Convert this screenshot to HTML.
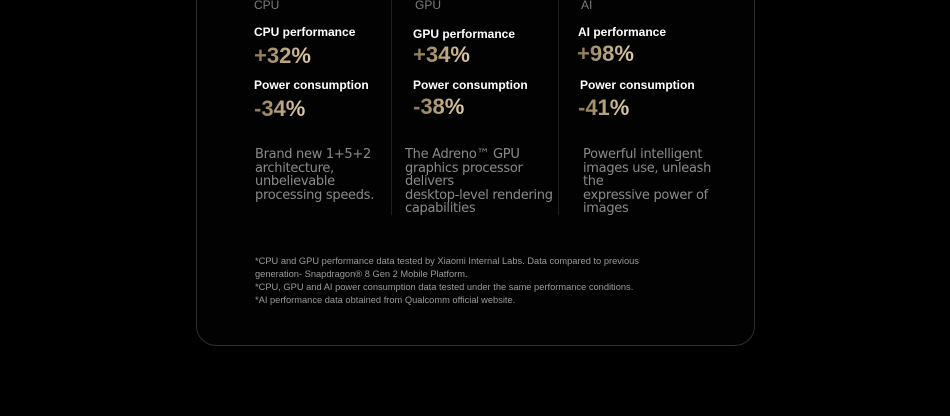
<!DOCTYPE html>
<html><head><meta charset="utf-8"><style>
body{margin:0;width:950px;height:416px;background:#000;overflow:hidden;position:relative;font-family:"Liberation Sans","DejaVu Sans",sans-serif}
.card{position:absolute;left:196px;top:-30px;width:557px;height:374px;border:1px solid #2e2e2e;border-radius:20px;background:#020202}
.t{position:absolute;white-space:nowrap}
.h{color:#7c7c7c;font-size:12px}
.lab{color:#fff;font-size:12px;font-weight:bold}
.num{font-size:22px;font-weight:bold;background:linear-gradient(90deg,#8a7650,#e0cda4);-webkit-background-clip:text;color:transparent}
.desc{color:#8a8a8a;font-size:13px;line-height:13.5px;font-family:"DejaVu Sans",sans-serif;letter-spacing:-0.3px}
.div{position:absolute;top:0;width:1px;height:215px;background:#1e1e1e}
.fn{position:absolute;left:255px;top:255px;color:#9a9a9a;font-size:9.3px;line-height:13px}
</style></head><body>
<div class="card"></div>
<div class="div" style="left:391px"></div>
<div class="div" style="left:558px"></div>
<div class="t h" style="left:254px;top:-2px">CPU</div>
<div class="t h" style="left:415px;top:-2px">GPU</div>
<div class="t h" style="left:581px;top:-2px">AI</div>
<div class="t lab" style="left:254px;top:25px">CPU performance</div>
<div class="t num" style="left:254px;top:43px">+32%</div>
<div class="t lab" style="left:254px;top:78px">Power consumption</div>
<div class="t num" style="left:254px;top:96px">-34%</div>
<div class="t lab" style="left:413px;top:27px">GPU performance</div>
<div class="t num" style="left:413px;top:42px">+34%</div>
<div class="t lab" style="left:413px;top:78px">Power consumption</div>
<div class="t num" style="left:413px;top:94px">-38%</div>
<div class="t lab" style="left:578px;top:25px">AI performance</div>
<div class="t num" style="left:577px;top:41px">+98%</div>
<div class="t lab" style="left:580px;top:78px">Power consumption</div>
<div class="t num" style="left:578px;top:95px">-41%</div>
<div class="t desc" style="left:255px;top:148px">Brand new 1+5+2<br>architecture,<br>unbelievable<br>processing speeds.</div>
<div class="t desc" style="left:405px;top:148px">The Adreno™ GPU<br>graphics processor<br>delivers<br>desktop-level rendering<br>capabilities</div>
<div class="t desc" style="left:583px;top:148px">Powerful intelligent<br>images use, unleash<br>the<br>expressive power of<br>images</div>
<div class="fn">*CPU and GPU performance data tested by Xiaomi Internal Labs. Data compared to previous<br>generation- Snapdragon® 8 Gen 2 Mobile Platform.<br>*CPU, GPU and AI power consumption data tested under the same performance conditions.<br>*AI performance data obtained from Qualcomm official website.</div>
</body></html>
